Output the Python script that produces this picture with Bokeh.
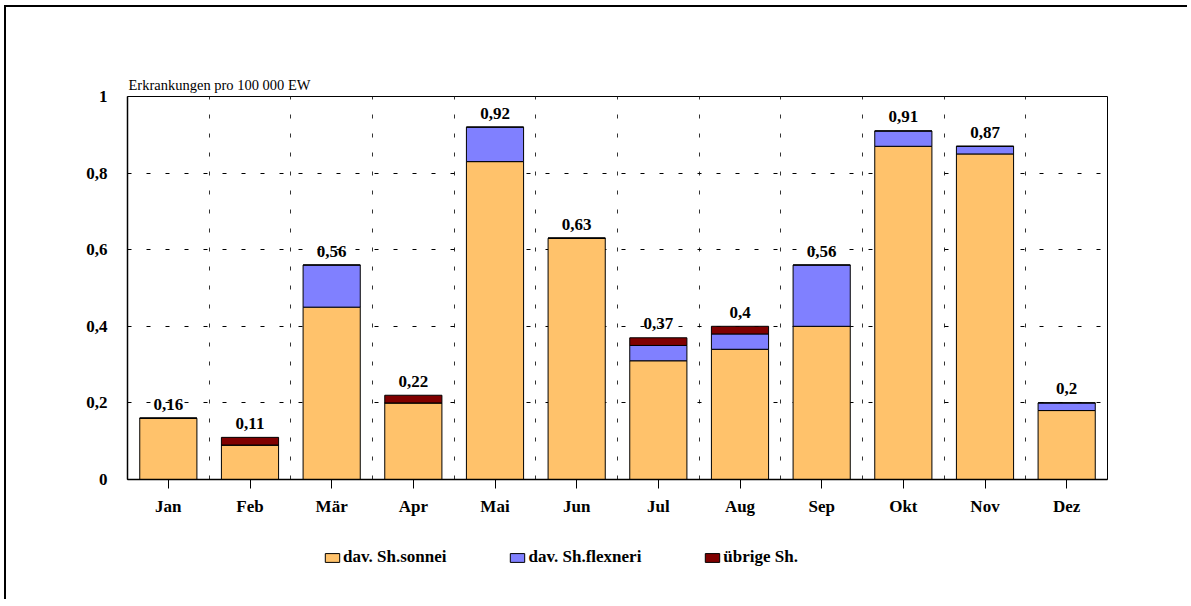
from bokeh.plotting import figure
from bokeh.layouts import column
from bokeh.models import (Range1d, FixedTicker, Legend, LegendItem, ColumnDataSource)
from bokeh.core.properties import value
from bokeh.embed import file_html
from bokeh.resources import INLINE

months = ["Jan", "Feb", "Mär", "Apr", "Mai", "Jun", "Jul", "Aug", "Sep", "Okt", "Nov", "Dez"]
sonnei = [0.16, 0.09, 0.45, 0.20, 0.83, 0.63, 0.31, 0.34, 0.40, 0.87, 0.85, 0.18]
flexneri = [0.00, 0.00, 0.11, 0.00, 0.09, 0.00, 0.04, 0.04, 0.16, 0.04, 0.02, 0.02]
uebrige = [0.00, 0.02, 0.00, 0.02, 0.00, 0.00, 0.02, 0.02, 0.00, 0.00, 0.00, 0.00]
totals = [0.16, 0.11, 0.56, 0.22, 0.92, 0.63, 0.37, 0.4, 0.56, 0.91, 0.87, 0.2]
y_ticks = [0, 0.2, 0.4, 0.6, 0.8, 1.0]
y_tick_labels = ["0", "0,2", "0,4", "0,6", "0,8", "1"]
series_names = ["dav. Sh.sonnei", "dav. Sh.flexneri", "übrige Sh."]
colors = ["#FFC26B", "#8080FF", "#800000"]

FONT = "Liberation Serif"
xs = list(range(1, len(months) + 1))
stack_keys = ["sonnei", "flexneri", "uebrige"]

src = ColumnDataSource(dict(x=xs, sonnei=sonnei, flexneri=flexneri, uebrige=uebrige,
                            total=totals,
                            lab=[("%g" % t).replace(".", ",") for t in totals]))

W = 1181
p = figure(width=W, frame_width=980, frame_height=383, min_border_left=121,
           min_border_right=80, min_border_top=89, min_border_bottom=40,
           x_range=Range1d(0.5, len(months) + 0.5), y_range=Range1d(0, 1),
           output_backend="svg", toolbar_location=None, tools="",
           title="Erkrankungen pro 100 000 EW")

p.title.text_font = FONT
p.title.text_font_style = "normal"
p.title.text_font_size = "14.5px"
p.title.text_color = "black"
p.title.align = "left"
p.title.offset = 1
p.title.standoff = 7

p.background_fill_color = "white"
p.border_fill_color = "white"
p.outline_line_color = "black"
p.outline_line_width = 1

rs = p.vbar_stack(stack_keys, x="x", width=0.7, source=src,
                  fill_color=colors, line_color="black", line_width=1)

p.text(x="x", y="total", text="lab", source=src, text_align="center",
       text_baseline="middle", y_offset=-14, text_font=value(FONT),
       text_font_style="bold", text_font_size="17px", text_color="black")

# axes
p.xaxis.ticker = FixedTicker(ticks=xs)
p.xaxis.major_label_overrides = {x: m for x, m in zip(xs, months)}
p.xaxis.major_tick_out = 9
p.xaxis.major_tick_in = 0
p.xaxis.minor_tick_line_color = None
p.xaxis.major_label_standoff = 8
p.yaxis.ticker = FixedTicker(ticks=y_ticks)
p.yaxis.major_label_overrides = {t: l for t, l in zip(y_ticks, y_tick_labels)}
p.yaxis.major_tick_out = 0
p.yaxis.major_tick_in = 0
p.yaxis.minor_tick_line_color = None
p.yaxis.major_label_standoff = 20
for ax in (p.xaxis, p.yaxis):
    ax.major_label_text_font = FONT
    ax.major_label_text_font_style = "bold"
    ax.major_label_text_font_size = "17px"
    ax.major_label_text_color = "black"
    ax.axis_line_color = "black"
    ax.axis_line_width = 1.5
    ax.major_tick_line_color = "black"

# grids
p.xgrid.ticker = FixedTicker(ticks=[x + 0.5 for x in xs[:-1]])
p.xgrid.grid_line_color = "#333333"
p.xgrid.grid_line_dash = "4 15"
p.xgrid.grid_line_width = 1
p.ygrid.ticker = FixedTicker(ticks=y_ticks[1:-1])
p.ygrid.grid_line_color = "black"
p.ygrid.grid_line_dash = "4 15"
p.ygrid.grid_line_width = 1

# legend in its own strip below the chart (the strip's ranges lie away from the bars)
LH = 80
lf = figure(width=W, height=LH, min_border=0, x_range=Range1d(1000, 1000 + W),
            y_range=Range1d(1000, 1000 + LH), x_axis_type=None, y_axis_type=None,
            output_backend="svg", toolbar_location=None, tools="")
lf.outline_line_color = None
lf.background_fill_color = "white"
lf.border_fill_color = "white"
lf.grid.visible = False
lrs = lf.vbar_stack(stack_keys, x="x", width=0.7, source=src,
                    fill_color=colors, line_color="black", line_width=1)
legend = Legend(items=[LegendItem(label=n, renderers=[r]) for n, r in zip(series_names, lrs)],
                orientation="horizontal", location=(196, 32),
                label_text_font=FONT, label_text_font_style="bold",
                label_text_font_size="17px", label_text_color="black",
                glyph_width=18, glyph_height=11,
                label_standoff=2, spacing=62, padding=0, margin=0,
                border_line_color=None, background_fill_alpha=0)
lf.add_layout(legend, "center")

layout = column(p, lf, spacing=0,
                styles={"border-left": "2px solid black", "border-top": "2px solid black",
                        "margin-left": "4px", "margin-top": "5px"})

open("out.html", "w").write(file_html(layout, INLINE))
